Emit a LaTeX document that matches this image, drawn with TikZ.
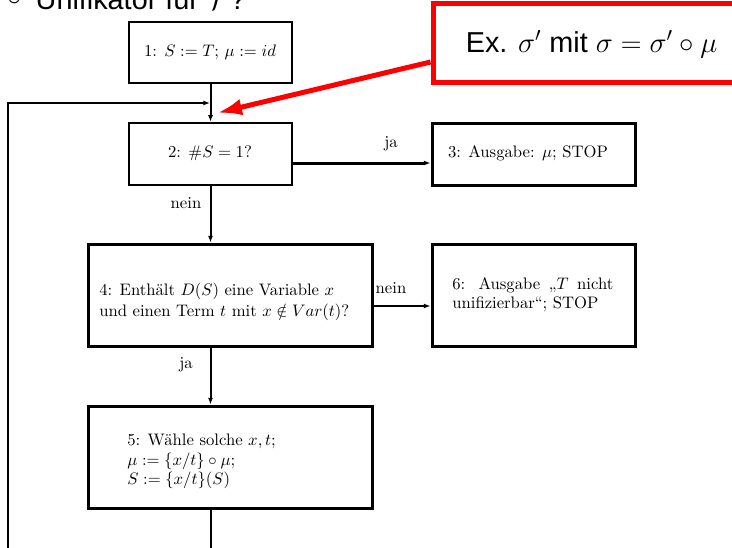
\documentclass[tikz,border=0pt]{standalone}
\usepackage{fontspec}
\newfontfamily\arialfont{Liberation Sans}
\usetikzlibrary{arrows.meta}
\begin{document}
\begin{tikzpicture}[x=0.6pt,y=-0.6pt,
  boxa/.style={draw, line width=1.4pt, inner sep=0pt},
  boxb/.style={draw, line width=1.8pt, inner sep=0pt},
  txt/.style={font=\fontsize{10}{12}\selectfont, inner sep=0pt},
  conn/.style={line width=1.2pt, -{Latex[length=4pt,width=3pt]}},
  connthick/.style={line width=1.8pt, -{Latex[length=4pt,width=3pt]}},
  redarrow/.style={draw=red, line width=3pt, -{Latex[length=15pt,width=10pt]}},
  bigtxt/.style={font=\arialfont\fontsize{17.28}{20}\selectfont, inner sep=0pt}]
\useasboundingbox (0,0) rectangle (732,547);
\clip (0,0) rectangle (732,547);

% title (cut off)
\node[bigtxt, anchor=base west] (title) at (7,9) {\raisebox{2.4pt}{$\circ$}\hspace{8.4pt}Unifikator für $\mathcal{T}$?};

% boxes
\node[boxa, minimum width=97.8pt, minimum height=36.6pt] (b1) at (210.5,52.5) {};
\node[boxa, minimum width=97.8pt, minimum height=37.2pt] (b2) at (210.5,154) {};
\node[boxb, minimum width=121.8pt, minimum height=37.2pt] (b3) at (533.5,154) {};
\node[boxb, minimum width=170.4pt, minimum height=61.2pt] (b4) at (230,295) {};
\node[boxb, minimum width=121.8pt, minimum height=61.2pt] (b6) at (533.5,295) {};
\node[boxb, minimum width=170.4pt, minimum height=61.2pt] (b5) at (230,457) {};

% box texts
\node[txt, anchor=base] (t1) at (210,56) {1: $S := T$; $\mu := id$};
\node[txt, anchor=base] (t2) at (210,157) {2: $\#S = 1$?};
\node[txt, anchor=base] (t3) at (528,157) {3: Ausgabe: $\mu$; STOP};
\node[txt, anchor=base west] (t4a) at (99,295) {4: Enthält $D(S)$ eine Variable $x$};
\node[txt, anchor=base west] (t4b) at (99,316) {und einen Term $t$ mit $x \notin Var(t)$?};
\node[txt, anchor=base west] (t6a) at (452,289) {\makebox[96.6pt][s]{6: Ausgabe „$T$ nicht}};
\node[txt, anchor=base west] (t6b) at (452,308) {unifizierbar“; STOP};
\node[txt, anchor=base west] (t5a) at (127,445) {5: Wähle solche $x,t$;};
\node[txt, anchor=base west] (t5b) at (127,465) {$\mu := \{x/t\}\circ\mu$;};
\node[txt, anchor=base west] (t5c) at (127,484) {$S := \{x/t\}(S)$};

% labels
\node[txt, anchor=base] (l1) at (391,147) {ja};
\node[txt, anchor=base] (l2) at (186,208) {nein};
\node[txt, anchor=base] (l3) at (391,293) {nein};
\node[txt, anchor=base] (l4) at (186,368) {ja};

% connectors
\coordinate (jn) at (210,103);
\coordinate (lb) at (8,570);
\draw[conn] (b1.south) -- (b2.north);
\draw[connthick] ([yshift=-5.4pt]b2.east) -- ([yshift=-5.4pt]b3.west);
\draw[conn] (b2.south) -- (b2.south |- b4.north);
\draw[conn] ([yshift=-6.6pt]b4.east) -- ([yshift=-6.6pt]b6.west);
\draw[conn] (b2.south |- b4.south) -- (b2.south |- b5.north);
\draw[conn] (b2.south |- b5.south) |- (lb) |- (jn);

% red callout
\node[draw=red, line width=3pt, minimum width=192pt, minimum height=47.4pt, inner sep=0pt] (ex) at (593,42.5) {};
\node[bigtxt, anchor=base] (ext) at (591.5,52) {Ex. $\sigma'$ mit $\sigma = \sigma' \circ \mu$};
\coordinate (rtip) at (217,113);
\draw[redarrow] ([yshift=-11.7pt]ex.west) -- (rtip);
\end{tikzpicture}
\end{document}
